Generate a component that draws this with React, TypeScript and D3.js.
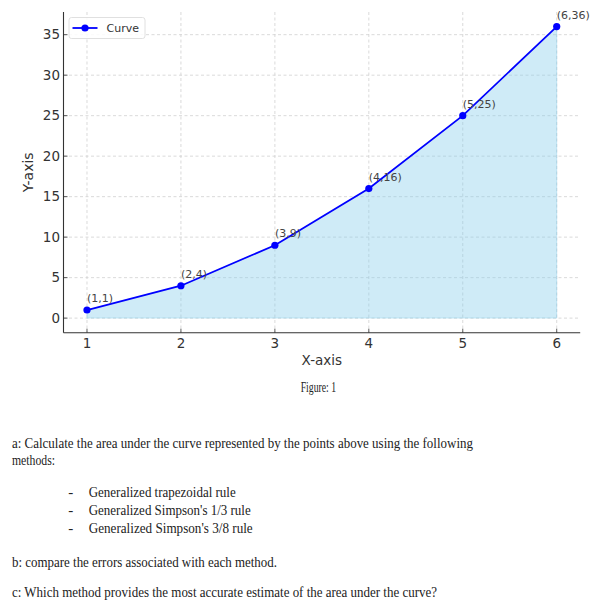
import React from "react";
import * as d3 from "d3";

const xValues = [1, 2, 3, 4, 5, 6];
const yValues = [1, 4, 9, 16, 25, 36];
const pointLabels = ["(1,1)", "(2,4)", "(3,9)", "(4,16)", "(5,25)", "(6,36)"];
const xTicks = [1, 2, 3, 4, 5, 6];
const yTicks = [0, 5, 10, 15, 20, 25, 30, 35];
const seriesName = "Curve";
const xLabel = "X-axis";
const yLabel = "Y-axis";
const caption = "Figure: 1";
const questionLines = [
  { text: "a: Calculate the area under the curve represented by the points above using the following", x: 12, y: 447.5, w: 461 },
  { text: "methods:", x: 12, y: 464.5, w: 43 },
  { text: "b: compare the errors associated with each method.", x: 12, y: 566.5, w: 265 },
  { text: "c: Which method provides the most accurate estimate of the area under the curve?", x: 12, y: 597, w: 425 },
];
const bulletLines = [
  { text: "Generalized trapezoidal rule", y: 496.5, w: 147 },
  { text: "Generalized Simpson's 1/3 rule", y: 515, w: 162 },
  { text: "Generalized Simpson's 3/8 rule", y: 533, w: 164 },
];

const W = 607;
const H = 610;
const left = 63.5;
const right = 580.2;
const top = 12;
const bottom = 332.7;

export default function App() {
  const x = d3.scaleLinear().domain([0.75, 6.25]).range([left, right]);
  const y = d3.scaleLinear().domain([-1.8, 37.8]).range([bottom, top]);
  const pts = xValues.map((v, i) => [v, yValues[i]] as [number, number]);
  const line = d3.line<[number, number]>().x((d) => x(d[0])).y((d) => y(d[1]));
  const area = d3
    .area<[number, number]>()
    .x((d) => x(d[0]))
    .y0(y(0))
    .y1((d) => y(d[1]));
  const sans = "'DejaVu Sans', sans-serif";
  const serif = "'Liberation Serif', 'DejaVu Serif', serif";
  const tickColor = "#333";
  return (
    <svg
      width={W}
      height={H}
      style={{ position: "absolute", left: 0, top: 0, background: "#fff" }}
    >
      <rect x={0} y={0} width={W} height={H} fill="#fff" />
      {/* grid */}
      {xTicks.map((t) => (
        <line key={"gx" + t} x1={x(t)} x2={x(t)} y1={top} y2={bottom} stroke="#d0d0d0" strokeWidth={0.8} strokeDasharray="3,2.5" />
      ))}
      {yTicks.map((t) => (
        <line key={"gy" + t} x1={left} x2={right} y1={y(t)} y2={y(t)} stroke="#d0d0d0" strokeWidth={0.8} strokeDasharray="3,2.5" />
      ))}
      {/* area */}
      <path d={area(pts) || ""} fill="#87ceeb" fillOpacity={0.4} stroke="#87ceeb" strokeOpacity={0.4} strokeWidth={1} />
      {/* line */}
      <path d={line(pts) || ""} fill="none" stroke="#0000ff" strokeWidth={1.8} />
      {pts.map((p, i) => (
        <circle key={"c" + i} cx={x(p[0])} cy={y(p[1])} r={3.6} fill="#0000ff" />
      ))}
      {pts.map((p, i) => (
        <text key={"l" + i} x={x(p[0])} y={y(p[1]) - 8} fontFamily={sans} fontSize={11} fill="#444">
          {pointLabels[i]}
        </text>
      ))}
      {/* spines */}
      <line x1={left} x2={left} y1={top} y2={bottom} stroke="#333" strokeWidth={1.1} />
      <line x1={left} x2={right} y1={bottom} y2={bottom} stroke="#333" strokeWidth={1.1} />
      {/* ticks */}
      {xTicks.map((t) => (
        <g key={"tx" + t}>
          <line x1={x(t)} x2={x(t)} y1={bottom} y2={bottom - 4} stroke="#333" strokeWidth={0.8} />
          <text x={x(t)} y={347.5} textAnchor="middle" fontFamily={sans} fontSize={13.5} fill={tickColor}>
            {t}
          </text>
        </g>
      ))}
      {yTicks.map((t) => (
        <g key={"ty" + t}>
          <line x1={left} x2={left + 4} y1={y(t)} y2={y(t)} stroke="#333" strokeWidth={0.8} />
          <text x={60} y={y(t)} dy="0.35em" textAnchor="end" fontFamily={sans} fontSize={13.5} fill={tickColor}>
            {t}
          </text>
        </g>
      ))}
      {/* axis labels */}
      <text x={(left + right) / 2} y={365} textAnchor="middle" fontFamily={sans} fontSize={13.5} fill={tickColor}>
        {xLabel}
      </text>
      <text
        transform={`translate(33,${(top + bottom) / 2}) rotate(-90)`}
        textAnchor="middle"
        fontFamily={sans}
        fontSize={14}
        fill={tickColor}
      >
        {yLabel}
      </text>
      {/* legend */}
      <rect x={69} y={17.5} width={76} height={21} rx={2.5} fill="#fff" fillOpacity={0.85} stroke="#d8d8d8" strokeWidth={0.8} />
      <line x1={72.5} x2={97.5} y1={28} y2={28} stroke="#0000ff" strokeWidth={1.8} />
      <circle cx={85} cy={28} r={3.6} fill="#0000ff" />
      <text x={106.5} y={28} dy="0.35em" fontFamily={sans} fontSize={11} fill={tickColor}>
        {seriesName}
      </text>
      {/* caption */}
      <text x={300.7} y={391.5} fontFamily={serif} fontSize={14} fill="#222" textLength={35.3} lengthAdjust="spacingAndGlyphs">
        {caption}
      </text>
      {questionLines.map((l, i) => (
        <text key={"q" + i} x={l.x} y={l.y} fontFamily={serif} fontSize={15} fill="#222" textLength={l.w} lengthAdjust="spacingAndGlyphs">
          {l.text}
        </text>
      ))}
      {bulletLines.map((l, i) => (
        <g key={"b" + i}>
          <text x={68.3} y={l.y} fontFamily={serif} fontSize={15} fill="#222">
            -
          </text>
          <text x={88.7} y={l.y} fontFamily={serif} fontSize={15} fill="#222" textLength={l.w} lengthAdjust="spacingAndGlyphs">
            {l.text}
          </text>
        </g>
      ))}
    </svg>
  );
}
